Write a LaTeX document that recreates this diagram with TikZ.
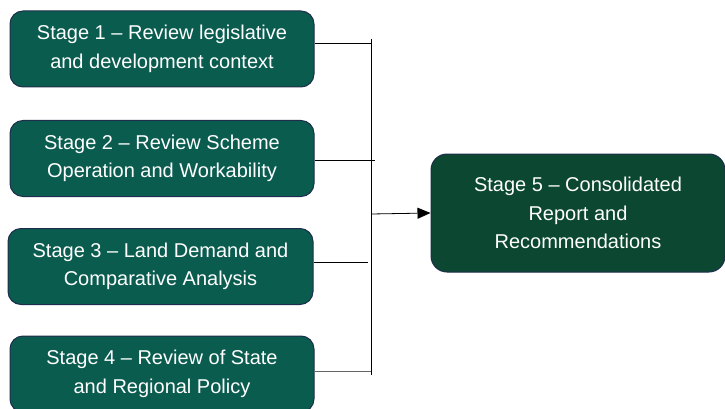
\documentclass[tikz,border=0pt]{standalone}
\usepackage{fontspec}
\setmainfont{Liberation Sans}
\usetikzlibrary{arrows.meta}
\definecolor{stagegreen}{HTML}{0A5C4F}
\definecolor{finalgreen}{HTML}{0B4731}
\definecolor{boxedge}{HTML}{1E2D4C}
\tikzset{stagebox/.style={draw=boxedge, line width=1pt, fill=stagegreen, rounded corners=13pt, text=white, align=center, font=\fontsize{20}{28.5}\selectfont, minimum width=304pt, minimum height=76pt, inner sep=0pt}}
\tikzset{finalbox/.style={stagebox, fill=finalgreen, rounded corners=16pt, minimum width=294pt, minimum height=118pt}}
\tikzset{link/.style={black, line width=0.8pt}}

\begin{document}
\begin{tikzpicture}[x=1pt,y=-1pt]
  \useasboundingbox (0,0) rectangle (725,409);
  \node[stagebox] (s1) at (162,49.0) {Stage 1 -- Review legislative\\and development context};
  \node[stagebox] (s2) at (162,158.5) {Stage 2 -- Review Scheme\\Operation and Workability};
  \node[stagebox, minimum width=305pt] (s3) at (160.5,266.5) {Stage 3 -- Land Demand and\\Comparative Analysis};
  \node[stagebox] (s4) at (162,374.0) {Stage 4 -- Review of State\\and Regional Policy};
  \node[finalbox] (s5) at (578,213) {Stage 5 -- Consolidated\\Report and\\Recommendations};
  % bus and joints
  \coordinate (top) at (371,39);
  \coordinate (bot) at (371,375);
  \coordinate (j1) at (371,43);
  \coordinate (j2) at (375,160);
  \coordinate (j3) at (368,262);
  \coordinate (j4) at (371,371);
  \coordinate (out) at (371,214);
  \draw[link] (top) -- (bot);
  \draw[link] (s1.east |- j1) -- (j1);
  \draw[link] (s2.east |- j2) -- (j2);
  \draw[link] (s3.east |- j3) -- (j3);
  \draw[link, black!60] (s4.east |- j4) -- (j4);
  \draw[link, -{Triangle[length=13pt,width=11pt]}] (out) -- (s5.west);
\end{tikzpicture}
\end{document}
